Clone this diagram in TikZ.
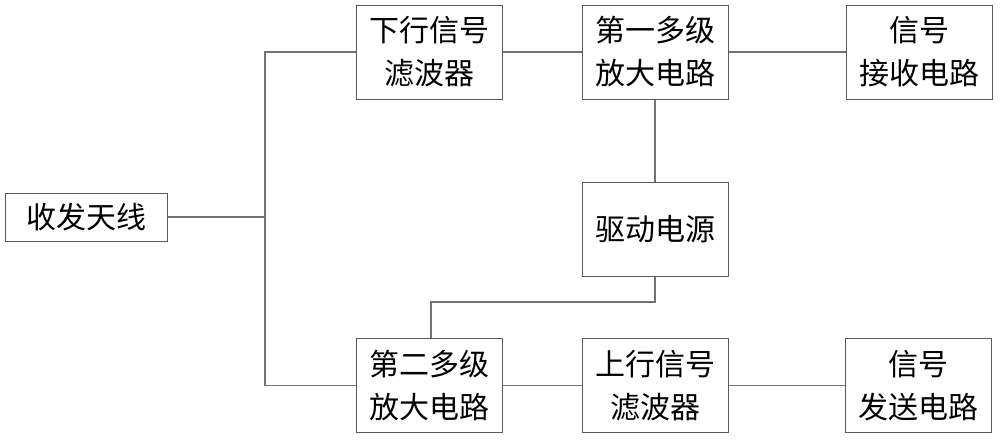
\documentclass[tikz,border=0pt]{standalone}
\usepackage{fontspec}
\setmainfont{Noto Sans CJK SC}
\usetikzlibrary{positioning}

\tikzset{
    blk/.style={draw=black!65, line width=1pt, fill=white, minimum width=146pt,
        minimum height=94pt, inner sep=0pt, align=center,
        font=\fontsize{30}{43}\selectfont},
    wire/.style={draw=black!55, line width=1.1pt}
}

\begin{document}
\begin{tikzpicture}[x=1pt, y=-1pt]
    \useasboundingbox (0,0) rectangle (1000,439);
    % blocks
    \node[blk, minimum width=162pt, minimum height=48pt] (ant) at (86,217) {收发天线};
    \node[blk] (dfilt) at (429,52) {下行信号\\滤波器};
    \node[blk] (amp1) at (655,52) {第一多级\\放大电路};
    \node[blk] (recv) at (919,52) {信号\\接收电路};
    \node[blk] (power) at (655,229.5) {驱动电源};
    \node[blk] (amp2) at (429,385.5) {第二多级\\放大电路};
    \node[blk] (ufilt) at (655,385.5) {上行信号\\滤波器};
    \node[blk] (send) at (918,385.5) {信号\\发送电路};
    % antenna bus
    \coordinate (bus) at (265,217);
    \draw[wire] (ant.east) -- (bus);
    \draw[wire] (dfilt.west) -| (bus) |- (amp2.west);
    % receive chain
    \draw[wire] (dfilt) -- (amp1);
    \draw[wire] (amp1) -- (recv);
    % transmit chain
    \draw[wire] (amp2) -- (ufilt);
    \draw[wire] (ufilt) -- (send);
    % power feed
    \draw[wire] (amp1.south) -- (power.north);
    \draw[wire] (power.south) -- ++(0,25) -| ([xshift=2pt]amp2.north);
\end{tikzpicture}
\end{document}
